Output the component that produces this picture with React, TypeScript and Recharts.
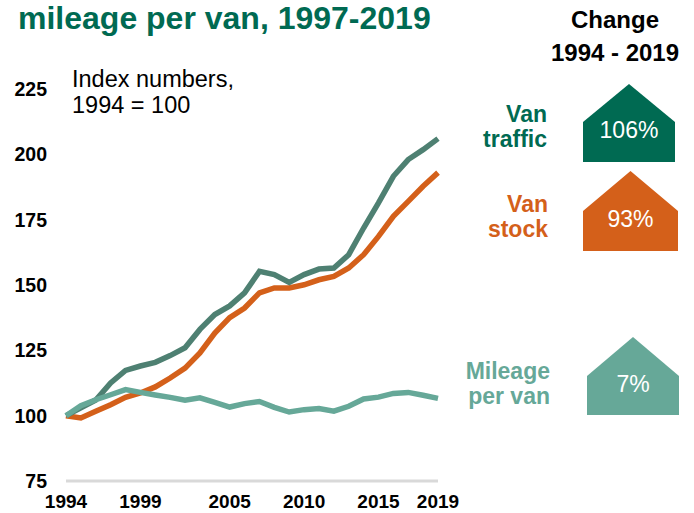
import { LineChart, Line, XAxis, YAxis } from "recharts";

const years = [
  1994, 1995, 1996, 1997, 1998, 1999, 2000, 2001, 2002, 2003, 2004, 2005, 2006,
  2007, 2008, 2009, 2010, 2011, 2012, 2013, 2014, 2015, 2016, 2017, 2018, 2019,
];
const vanTraffic = [
  100, 103, 106, 112.5, 117.3, 119, 120.4, 123, 126, 133, 138.7, 142, 147,
  155.2, 154, 151, 154, 156.1, 156.5, 161.6, 171.8, 181.4, 191.6, 198, 201.8, 206,
];
const vanStock = [
  100, 99.1, 101.7, 104.2, 107, 108.7, 111, 114.4, 118.2, 124, 131.6, 137.5, 141.2,
  147, 148.9, 148.9, 150.1, 152, 153.3, 156.5, 161.6, 168.6, 176.3, 182, 187.8, 193,
];
const mileagePerVan = [
  100, 103.8, 106.1, 108, 110, 108.9, 107.9, 107, 105.9, 106.8, 105.1, 103.3, 104.6,
  105.4, 103.2, 101.4, 102.3, 102.7, 101.7, 103.6, 106.4, 107.1, 108.5, 108.9, 107.8, 106.6,
];

const yTicks = [75, 100, 125, 150, 175, 200, 225];
const xTicks = [1994, 1999, 2005, 2010, 2015, 2019];

const seriesLabels = [["Van", "traffic"], ["Van", "stock"], ["Mileage", "per van"]];
const changes = ["106%", "93%", "7%"];

const DARK = "#006a52";
const TRAFFIC = "#4e8072";
const ORANGE = "#d4601a";
const LIGHT = "#66a898";
const FONT = "'Liberation Sans', Arial, sans-serif";

const data = years.map((y, i) => ({
  year: y,
  traffic: vanTraffic[i],
  stock: vanStock[i],
  mileage: mileagePerVan[i],
}));

// right hand side panel: label + house shaped badge
const badges = [
  { color: DARK, labelX: 547, labelY: 122, x: 583, w: 92, peak: 84, shoulder: 122, bottom: 162 },
  { color: ORANGE, labelX: 548, labelY: 212, x: 583, w: 95, peak: 171, shoulder: 211, bottom: 251 },
  { color: LIGHT, labelX: 550, labelY: 379, x: 587, w: 92, peak: 337, shoulder: 376, bottom: 415 },
];

function Overlay() {
  return (
    <svg
      width={694}
      height={513}
      style={{ position: "absolute", left: 0, top: 0, pointerEvents: "none" }}
      fontFamily={FONT}
    >
      <text x={18} y={29} fontSize={32} fontWeight="bold" fill={DARK}>
        mileage per van, 1997-2019
      </text>
      <text x={72} y={87} fontSize={23.5} fill="#000">Index numbers,</text>
      <text x={72} y={113} fontSize={23.5} fill="#000">1994 = 100</text>

      <text x={615} y={28} fontSize={24} fontWeight="bold" textAnchor="middle" fill="#000">Change</text>
      <text x={615} y={61} fontSize={24} fontWeight="bold" textAnchor="middle" fill="#000">1994 - 2019</text>

      {badges.map((b, i) => {
        const cx = b.x + b.w / 2;
        const pts = `${b.x},${b.bottom} ${b.x},${b.shoulder} ${cx},${b.peak} ${b.x + b.w},${b.shoulder} ${b.x + b.w},${b.bottom}`;
        return (
          <g key={i}>
            <text x={b.labelX} y={b.labelY} fontSize={23} fontWeight="bold" textAnchor="end" fill={b.color}>
              {seriesLabels[i][0]}
            </text>
            <text x={b.labelX} y={b.labelY + 25} fontSize={23} fontWeight="bold" textAnchor="end" fill={b.color}>
              {seriesLabels[i][1]}
            </text>
            <polygon points={pts} fill={b.color} />
            <text x={cx} y={b.shoulder + 16} fontSize={23} textAnchor="middle" fill="#fff">
              {changes[i]}
            </text>
          </g>
        );
      })}
    </svg>
  );
}

export default function App() {
  return (
    <div style={{ position: "absolute", left: 0, top: 0, width: 694, height: 513, background: "#fff" }}>
      <LineChart
        width={694}
        height={513}
        data={data}
        margin={{ top: 89, right: 256, bottom: 2, left: 16 }}
      >
        <XAxis
          dataKey="year"
          type="number"
          domain={[1994, 2019]}
          ticks={xTicks}
          interval={0}
          height={30}
          tickLine={false}
          tickSize={0}
          tickMargin={14}
          axisLine={{ stroke: "#d9d9d9", strokeWidth: 3 }}
          tick={{ fill: "#000", fontSize: 19, fontWeight: "bold", fontFamily: FONT }}
        />
        <YAxis
          type="number"
          domain={[75, 225]}
          ticks={yTicks}
          interval={0}
          width={50}
          axisLine={false}
          tickLine={false}
          tickSize={0}
          tickMargin={19}
          tick={{ fill: "#000", fontSize: 19.5, fontWeight: "bold", fontFamily: FONT }}
        />
        <Line dataKey="stock" stroke={ORANGE} strokeWidth={5.5} dot={false} isAnimationActive={false} />
        <Line dataKey="traffic" stroke={TRAFFIC} strokeWidth={5.5} dot={false} isAnimationActive={false} />
        <Line dataKey="mileage" stroke={LIGHT} strokeWidth={5.5} dot={false} isAnimationActive={false} />
      </LineChart>
      <Overlay />
    </div>
  );
}
